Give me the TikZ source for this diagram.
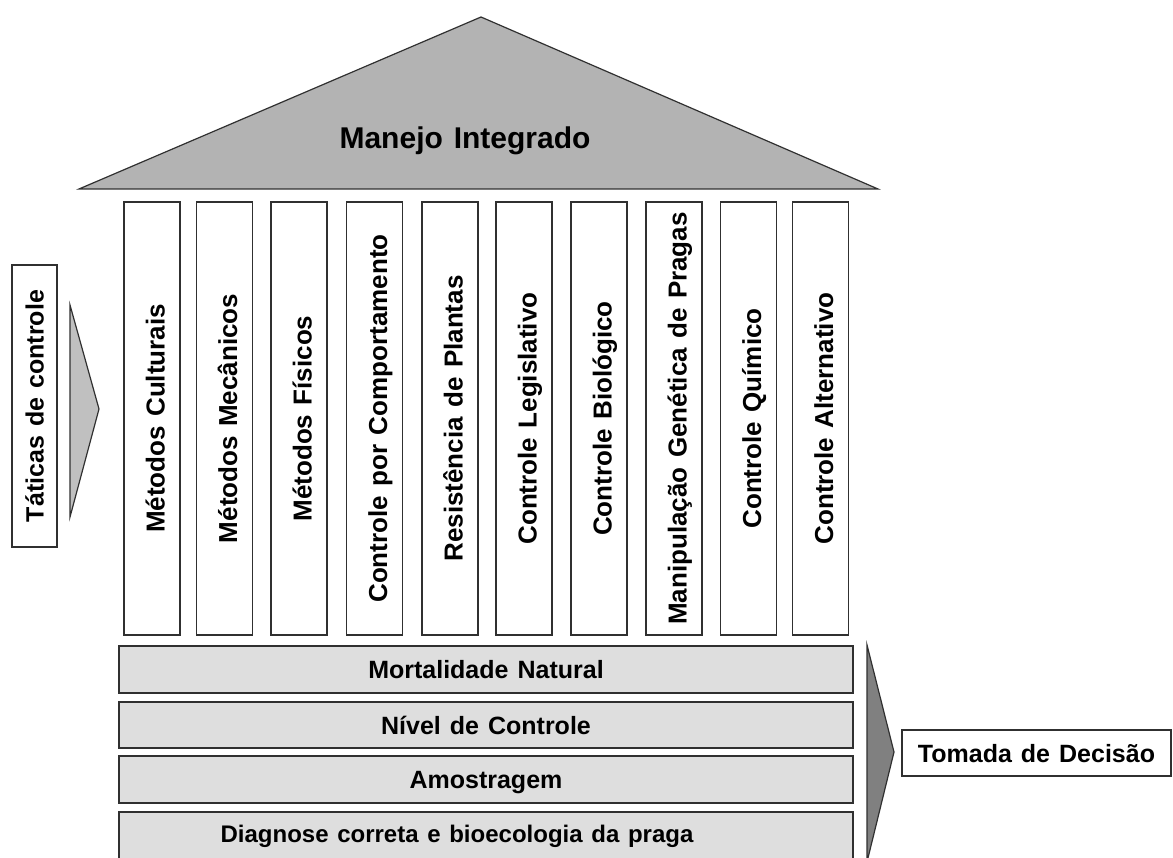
\documentclass[tikz,border=0pt]{standalone}
\usepackage{fontspec}
\setmainfont{Liberation Sans}[WordSpace=1.3]
\definecolor{roofgray}{HTML}{B3B3B3}
\definecolor{bargray}{HTML}{DEDEDE}
\definecolor{lightarrow}{HTML}{C0C0C0}
\definecolor{darkarrow}{HTML}{808080}
\definecolor{edge}{HTML}{303030}
\begin{document}
\begin{tikzpicture}[x=1pt,y=-1pt,
  txt/.style={font=\fontsize{25}{30}\selectfont\bfseries},
  pillar/.style={draw=edge, line width=1.2pt, fill=white, rotate=90,
    minimum width=433pt, minimum height=56pt, inner sep=0pt,
    font=\fontsize{26}{30}\selectfont\bfseries,
    text height=25pt, text depth=0pt},
  bar/.style={draw=edge, line width=2pt, fill=bargray, minimum width=734pt,
    minimum height=46pt, inner sep=0pt, txt, text height=18pt, text depth=0pt},
  sidebox/.style={draw=edge, line width=1.2pt, fill=white, inner sep=0pt, txt,
    text height=18pt, text depth=0pt}
  ]
\useasboundingbox (0,0) rectangle (1173,858);
% roof
\draw[edge, line width=1.2pt, fill=roofgray] (481,17) -- (878,189) -- (79,189) -- cycle;
\node[anchor=base, font=\fontsize{30}{34}\selectfont\bfseries] (mi) at (465,149) {Manejo Integrado};
% pillars
\node[pillar] (p1) at (152,418.5) {Métodos Culturais};
\node[pillar] (p2) at (224.5,418.5) {Métodos Mecânicos};
\node[pillar] (p3) at (299,418.5) {Métodos Físicos};
\node[pillar] (p4) at (374.5,418.5) {Controle por Comportamento};
\node[pillar] (p5) at (450,418.5) {Resistência de Plantas};
\node[pillar] (p6) at (524,418.5) {Controle Legislativo};
\node[pillar] (p7) at (599,418.5) {Controle Biológico};
\node[pillar] (p8) at (674,418.5) {Manipulação Genética de Pragas};
\node[pillar] (p9) at (748.5,418.5) {Controle Químico};
\node[pillar] (p10) at (820.5,418.5) {Controle Alternativo};
% base bars
\node[bar, minimum height=47pt] (b1) at (486,669.5) {Mortalidade Natural};
\node[bar] (b2) at (486,725) {Nível de Controle};
\node[bar, minimum height=47pt] (b3) at (486,779.5) {Amostragem};
\node[bar, minimum height=60pt] (b4) at (486,842) {};
\node[anchor=base, inner sep=0pt, font=\fontsize{24}{28}\selectfont\bfseries] (b4t) at (457,842) {Diagnose correta e bioecologia da praga};
% left side
\node[sidebox, rotate=90, minimum width=282pt, minimum height=45pt] (tat) at (34.5,406) {Táticas de controle};
\coordinate (la1) at (70,305);
\coordinate (la2) at (99,409);
\coordinate (la3) at (70,517);
\draw[edge, line width=1.2pt, fill=lightarrow] (la1) -- (la2) -- (la3) -- cycle;
% right side
\coordinate (ra1) at (867,645);
\coordinate (ra2) at (894,752);
\coordinate (ra3) at (867,862);
\draw[edge, line width=1.2pt, fill=darkarrow] (ra1) -- (ra2) -- (ra3) -- cycle;
\node[sidebox, minimum width=269pt, minimum height=46pt] (td) at (1036.5,753) {Tomada de Decisão};
\end{tikzpicture}
\end{document}
